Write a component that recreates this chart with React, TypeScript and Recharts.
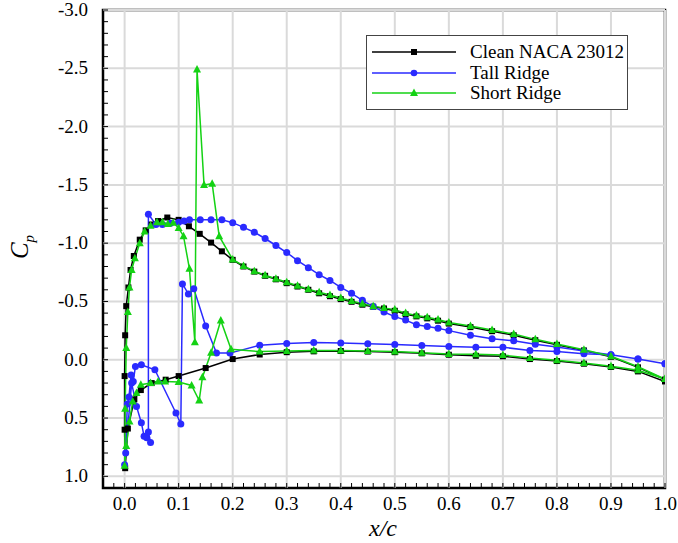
import React from "react";
import { LineChart, Line, XAxis, YAxis, ReferenceLine, ReferenceArea } from "recharts";

// [x/c, Cp] pairs, traced lower TE -> LE -> upper TE
const cleanPts: [number, number][] = [
  [1.0, 0.186], [0.95, 0.1], [0.9, 0.062], [0.85, 0.034], [0.8, 0.011], [0.75, -0.006],
  [0.7, -0.03], [0.65, -0.034], [0.6, -0.043], [0.55, -0.055], [0.5, -0.065], [0.45, -0.07],
  [0.4, -0.075], [0.35, -0.072], [0.3, -0.065], [0.25, -0.045], [0.2, -0.006], [0.15, 0.071],
  [0.1, 0.14], [0.076, 0.171], [0.05, 0.2], [0.03, 0.26], [0.018, 0.34], [0.006, 0.59],
  [0.001, 0.93], [0.0, 0.6], [0.0, 0.14], [0.001, -0.21], [0.003, -0.46], [0.007, -0.62],
  [0.011, -0.77], [0.017, -0.89], [0.028, -1.03], [0.039, -1.11], [0.05, -1.16], [0.062, -1.19],
  [0.079, -1.22], [0.1, -1.2], [0.119, -1.145], [0.139, -1.08], [0.16, -1.005], [0.18, -0.93],
  [0.2, -0.857], [0.22, -0.8], [0.24, -0.756], [0.26, -0.72], [0.28, -0.69], [0.3, -0.657],
  [0.32, -0.628], [0.34, -0.6], [0.36, -0.57], [0.38, -0.545], [0.4, -0.52], [0.42, -0.497],
  [0.44, -0.472], [0.46, -0.455], [0.48, -0.44], [0.5, -0.42], [0.52, -0.39], [0.54, -0.372],
  [0.56, -0.355], [0.58, -0.335], [0.6, -0.31], [0.64, -0.28], [0.68, -0.245], [0.72, -0.21],
  [0.76, -0.168], [0.8, -0.128], [0.85, -0.08], [0.9, -0.025], [0.95, 0.065], [1.0, 0.17],
];

const tallPts: [number, number][] = [
  [1.0, 0.034], [0.95, -0.006], [0.9, -0.043], [0.85, -0.051], [0.8, -0.071], [0.75, -0.08],
  [0.7, -0.107], [0.65, -0.108], [0.6, -0.114], [0.55, -0.122], [0.5, -0.13], [0.45, -0.137],
  [0.4, -0.143], [0.35, -0.148], [0.3, -0.14], [0.25, -0.125], [0.195, -0.057], [0.17, -0.057],
  [0.15, -0.29], [0.128, -0.61], [0.118, -0.565], [0.107, -0.65], [0.104, 0.55], [0.095, 0.457],
  [0.056, 0.086], [0.031, 0.043], [0.02, 0.057], [0.016, 0.186], [0.012, 0.13], [0.008, 0.32],
  [0.005, 0.38], [0.002, 0.8], [0.0, 0.9], [0.013, 0.2], [0.022, 0.4], [0.031, 0.54],
  [0.036, 0.657], [0.041, 0.67], [0.048, 0.71], [0.044, 0.62], [0.044, -1.248], [0.058, -1.16],
  [0.07, -1.16], [0.085, -1.17], [0.1, -1.18], [0.11, -1.19], [0.12, -1.2], [0.14, -1.2],
  [0.16, -1.2], [0.18, -1.2], [0.2, -1.176], [0.22, -1.136], [0.24, -1.094], [0.26, -1.04],
  [0.28, -0.98], [0.3, -0.92], [0.32, -0.85], [0.34, -0.79], [0.36, -0.73], [0.38, -0.68],
  [0.4, -0.62], [0.42, -0.57], [0.44, -0.51], [0.46, -0.456], [0.48, -0.41], [0.5, -0.37],
  [0.52, -0.34], [0.54, -0.3], [0.56, -0.285], [0.58, -0.27], [0.6, -0.25], [0.64, -0.21],
  [0.68, -0.18], [0.72, -0.163], [0.76, -0.134], [0.8, -0.109], [0.85, -0.074], [0.9, -0.043],
  [0.95, -0.006], [1.0, 0.034],
];

const shortPts: [number, number][] = [
  [1.0, 0.165], [0.95, 0.09], [0.9, 0.055], [0.85, 0.028], [0.8, 0.005], [0.75, -0.015],
  [0.7, -0.04], [0.65, -0.048], [0.6, -0.05], [0.55, -0.06], [0.5, -0.07], [0.45, -0.075],
  [0.4, -0.08], [0.35, -0.08], [0.3, -0.075], [0.25, -0.07], [0.197, -0.09], [0.178, -0.337],
  [0.16, -0.06], [0.144, 0.15], [0.138, 0.35], [0.124, 0.22], [0.1, 0.19], [0.075, 0.186],
  [0.062, 0.186], [0.048, 0.2], [0.03, 0.214], [0.022, 0.286], [0.015, 0.357], [0.009, 0.53],
  [0.003, 0.74], [0.0, 0.91], [0.001, 0.42], [0.003, -0.1], [0.006, -0.41], [0.009, -0.62],
  [0.013, -0.77], [0.019, -0.87], [0.028, -1.0], [0.037, -1.1], [0.048, -1.15], [0.06, -1.18],
  [0.07, -1.18], [0.08, -1.165], [0.09, -1.175], [0.1, -1.13], [0.109, -1.06], [0.12, -0.78],
  [0.13, -0.15], [0.134, -2.49], [0.147, -1.5], [0.162, -1.51], [0.175, -1.06], [0.2, -0.86],
  [0.22, -0.805], [0.24, -0.76], [0.26, -0.725], [0.28, -0.695], [0.3, -0.665], [0.32, -0.635],
  [0.34, -0.605], [0.36, -0.58], [0.38, -0.555], [0.4, -0.53], [0.42, -0.505], [0.44, -0.48],
  [0.46, -0.46], [0.48, -0.445], [0.5, -0.43], [0.52, -0.4], [0.54, -0.38], [0.56, -0.365],
  [0.58, -0.345], [0.6, -0.32], [0.64, -0.29], [0.68, -0.255], [0.72, -0.22], [0.76, -0.175],
  [0.8, -0.135], [0.85, -0.085], [0.9, -0.03], [0.95, 0.06], [1.0, 0.165],
];

const xMajor = [0, 0.1, 0.2, 0.3, 0.4, 0.5, 0.6, 0.7, 0.8, 0.9, 1.0];
const yMajor = [-3, -2.5, -2, -1.5, -1, -0.5, 0, 0.5, 1.0];

const X_MIN = -0.04;
const X_MAX = 1.0;
const Y_MIN = -3;
const Y_MAX = 1.1;

const FONT = "'Liberation Serif', 'Times New Roman', serif";
const BLUE = "#2a2aff";
const GREEN = "#14d214";

// minor ticks: x every 0.02, y every 0.1
const xTicks: number[] = [];
for (let i = -2; i <= 50; i++) xTicks.push(Math.round(i * 2) / 100);
const yTicks: number[] = [];
for (let i = -30; i <= 11; i++) yTicks.push(i / 10);

const toRows = (pts: [number, number][]) => pts.map(([x, cp]) => ({ x, cp }));
const cleanData = toRows(cleanPts);
const tallData = toRows(tallPts);
const shortData = toRows(shortPts);

const isMajorX = (v: number) => xMajor.some((m) => Math.abs(m - v) < 1e-6);
const isMajorY = (v: number) => yMajor.some((m) => Math.abs(m - v) < 1e-6);

const fmt = (v: number) => (Math.abs(v) < 1e-9 ? "0.0" : v.toFixed(1));

function XTick(props: any) {
  const { x, y, payload } = props;
  const v = payload.value;
  return (
    <g>
      <line x1={x} y1={y} x2={x} y2={y - 5} stroke="#000" strokeWidth={1} />
      {isMajorX(v) && (
        <text x={x} y={y + 22} textAnchor="middle" fontSize={19} fontFamily={FONT} fill="#000">
          {fmt(v)}
        </text>
      )}
    </g>
  );
}

function YTick(props: any) {
  const { x, y, payload } = props;
  const v = payload.value;
  return (
    <g>
      <line x1={x} y1={y} x2={x + 5} y2={y} stroke="#000" strokeWidth={1} />
      {isMajorY(v) && (
        <text x={x - 15} y={y + 6} textAnchor="end" fontSize={19} fontFamily={FONT} fill="#000">
          {fmt(v)}
        </text>
      )}
    </g>
  );
}

const squareDot = (p: any) => (
  <rect key={`s${p.index}`} x={p.cx - 3} y={p.cy - 3} width={6} height={6} fill="#000" />
);
const circleDot = (p: any) => <circle key={`c${p.index}`} cx={p.cx} cy={p.cy} r={3.5} fill={BLUE} />;
const triDot = (p: any) => (
  <polygon
    key={`t${p.index}`}
    points={`${p.cx},${p.cy - 4.5} ${p.cx - 4},${p.cy + 3} ${p.cx + 4},${p.cy + 3}`}
    fill={GREEN}
  />
);

const legendItems = [
  { name: "Clean NACA 23012", color: "#000", marker: "square" },
  { name: "Tall Ridge", color: BLUE, marker: "circle" },
  { name: "Short Ridge", color: GREEN, marker: "tri" },
];

function LegendBox() {
  return (
    <div
      style={{
        position: "absolute",
        left: 366,
        top: 35,
        width: 262,
        height: 75,
        border: "1px solid #444",
        background: "#fff",
        boxSizing: "border-box",
        fontFamily: FONT,
        fontSize: 19,
        paddingTop: 6,
      }}
    >
      {legendItems.map((it) => (
        <div key={it.name} style={{ display: "flex", alignItems: "center", height: 20.5 }}>
          <svg width={98} height={12} style={{ marginLeft: 5 }}>
            <line x1={0} y1={6} x2={84} y2={6} stroke={it.color} strokeWidth={1.5} />
            {it.marker === "square" && <rect x={39} y={3} width={6} height={6} fill={it.color} />}
            {it.marker === "circle" && <circle cx={42} cy={6} r={3.3} fill={it.color} />}
            {it.marker === "tri" && <polygon points="42,1.5 38,9 46,9" fill={it.color} />}
          </svg>
          <span style={{ lineHeight: "20px" }}>{it.name}</span>
        </div>
      ))}
    </div>
  );
}

export default function App() {
  return (
    <div style={{ position: "absolute", left: 0, top: 0, width: 678, height: 543, background: "#fff" }}>
      <LineChart width={678} height={543} margin={{ top: 10, right: 13, bottom: 0, left: 0 }}>
        <XAxis
          type="number"
          dataKey="x"
          domain={[X_MIN, X_MAX]}
          allowDataOverflow
          ticks={xTicks}
          interval={0}
          tick={<XTick />}
          tickSize={0}
          tickMargin={0}
          axisLine={false}
          tickLine={false}
          height={55}
        />
        <YAxis
          type="number"
          dataKey="cp"
          domain={[Y_MIN, Y_MAX]}
          allowDataOverflow
          reversed
          ticks={yTicks}
          interval={0}
          tick={<YTick />}
          tickSize={0}
          tickMargin={0}
          axisLine={false}
          tickLine={false}
          width={103}
        />
        {xMajor.map((v) => (
          <ReferenceLine key={`gx${v}`} x={v} stroke="#dadada" strokeWidth={2} />
        ))}
        {yMajor.map((v) => (
          <ReferenceLine key={`gy${v}`} y={v} stroke="#dadada" strokeWidth={2} />
        ))}
        <Line
          data={cleanData}
          dataKey="cp"
          name="Clean NACA 23012"
          stroke="#000"
          strokeWidth={1.5}
          dot={squareDot}
          isAnimationActive={false}
        />
        <Line
          data={tallData}
          dataKey="cp"
          name="Tall Ridge"
          stroke={BLUE}
          strokeWidth={1.5}
          dot={circleDot}
          isAnimationActive={false}
        />
        <Line
          data={shortData}
          dataKey="cp"
          name="Short Ridge"
          stroke={GREEN}
          strokeWidth={1.5}
          dot={triDot}
          isAnimationActive={false}
        />
        <ReferenceArea
          x1={X_MIN}
          x2={X_MAX}
          y1={Y_MIN}
          y2={Y_MAX}
          fill="none"
          fillOpacity={0}
          stroke="#000"
          strokeWidth={2.5}
          ifOverflow="visible"
        />
      </LineChart>
      <div
        style={{
          position: "absolute",
          left: 0,
          top: 0,
          width: 678,
          height: 543,
          pointerEvents: "none",
          fontFamily: FONT,
        }}
      >
        <LegendBox />
        <div
          style={{
            position: "absolute",
            left: 369,
            top: 516,
            fontSize: 24,
            lineHeight: "24px",
            fontStyle: "italic",
          }}
        >
          x/c
        </div>
        <div
          style={{
            position: "absolute",
            left: 10,
            top: 231,
            fontSize: 25,
            fontStyle: "italic",
            transform: "rotate(-90deg)",
            transformOrigin: "center",
            whiteSpace: "nowrap",
          }}
        >
          C<sub style={{ fontSize: 15 }}>p</sub>
        </div>
      </div>
    </div>
  );
}
